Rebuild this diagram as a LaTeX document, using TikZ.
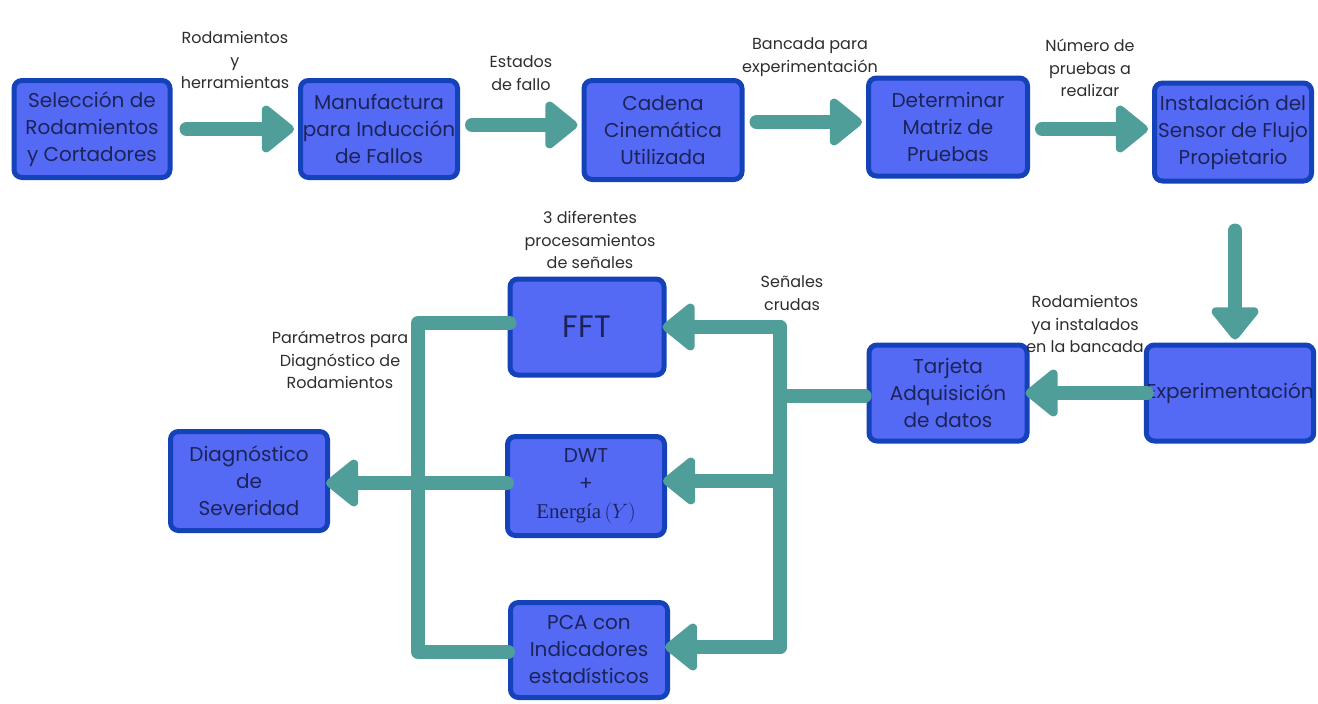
\documentclass[tikz,border=0pt]{standalone}
\usepackage{fontspec}
\setmainfont{Poppins}
\newfontfamily\serifE{Liberation Serif}
\usetikzlibrary{arrows.meta,calc}
\definecolor{boxfill}{RGB}{84,106,244}
\definecolor{boxline}{RGB}{20,66,184}
\definecolor{boxtext}{RGB}{28,35,88}
\definecolor{flowc}{RGB}{80,158,154}
\definecolor{labtext}{RGB}{45,45,45}
\tikzset{
  blk/.style={draw=boxline, fill=boxfill, line width=5pt, rounded corners=8pt,
    inner sep=0pt, align=center, text=boxtext,
    font=\fontsize{20}{27}\selectfont},
  lab/.style={align=center, text=labtext, inner sep=0pt,
    font=\fontsize{16}{22.5}\selectfont},
  wire/.style={draw=flowc, line width=14pt, line cap=round, line join=round},
  flow/.style={wire, -{Triangle[length=35pt,width=54pt,round]}},
}
\begin{document}
\begin{tikzpicture}[x=1pt,y=-1pt]
\useasboundingbox (0,0) rectangle (1318,704);
% boxes
\node[blk, minimum width=156pt, minimum height=97pt] (sel) at (92,129) {Selección de\\Rodamientos\\y Cortadores};
\node[blk, minimum width=157pt, minimum height=97pt] (man) at (379,129) {Manufactura\\para Inducción\\de Fallos};
\node[blk, minimum width=158pt, minimum height=99pt] (cad) at (663,130) {Cadena\\Cinemática\\Utilizada};
\node[blk, minimum width=159pt, minimum height=98pt] (det) at (948,127) {Determinar\\Matriz de\\Pruebas};
\node[blk, minimum width=157pt, minimum height=98pt] (ins) at (1233,132) {Instalación del\\Sensor de Flujo\\Propietario};
\node[blk, minimum width=165pt, minimum height=96pt] (exp) at (1230,393) {\raisebox{5pt}{Experimentación}};
\node[blk, minimum width=158pt, minimum height=96pt] (tar) at (948,393) {Tarjeta\\Adquisición\\de datos};
\node[blk, minimum width=154pt, minimum height=96pt, font=\fontsize{31}{34}\selectfont] (fft) at (587,327) {FFT};
\node[blk, minimum width=157pt, minimum height=99pt, font=\fontsize{20}{28}\selectfont] (dwt) at (586,486) {DWT\\+\\{\serifE\fontsize{21}{28}\selectfont Energía}\,$(Y)$};
\node[blk, minimum width=157pt, minimum height=95pt] (pca) at (589,650) {PCA con\\Indicadores\\estadísticos};
\node[blk, minimum width=157pt, minimum height=99pt] (dia) at (249,481) {Diagnóstico\\de\\Severidad};
% labels
\node[lab] (l1) at (235,60) {Rodamientos\\y\\herramientas};
\node[lab] (l2) at (521,73) {Estados\\de fallo};
\node[lab] (l3) at (810,57) {Bancada para\\experimentación};
\node[lab] (l4) at (1090,68) {Número de\\pruebas a\\realizar};
\node[lab] (l5) at (590,240) {3 diferentes\\procesamientos\\de señales};
\node[lab] (l6) at (792,293) {Señales\\crudas};
\node[lab] (l7) at (1085,324) {Rodamientos\\ya instalados\\en la bancada};
\node[lab] (l8) at (340,360) {Parámetros para\\Diagnóstico de\\Rodamientos};
% top row arrows
\draw[flow] ($(sel.east)+(14,0)$) -- ($(man.west)+(-4,0)$);
\draw[flow] ($(man.east)+(12,-4)$) -- ($(cad.west)+(-4,-5)$);
\draw[flow] ($(cad.east)+(12,-8)$) -- ($(det.west)+(-4,-5)$);
\draw[flow] ($(det.east)+(12,2)$) -- ($(ins.west)+(-4,-3)$);
\draw[flow] ($(ins.south)+(2,47)$) -- ($(exp.north)+(5,-3)$);
\draw[flow] ($(exp.west)+(3,0)$) -- ($(tar.east)+(-4,0)$);
% right distribution
\coordinate (rt) at (780,327);
\coordinate (rb) at (780,647);
\coordinate (lb) at (418,652);
\draw[wire] ($(tar.west)+(-2,3)$) -- (rt |- {$(tar.west)+(0,3)$});
\draw[flow] (rb) -- (rt) -- ($(fft.east)+(-4,0)$);
\draw[flow] (rt) -- (rb) -- ($(pca.east |- rb)+(-5,0)$);
\draw[flow] (rt |- {$(dwt.east)+(0,-5)$}) -- ($(dwt.east)+(-4,-5)$);
% left collection
\draw[wire] ($(fft.west)+(2,-4)$) -| (lb) -- (lb -| pca.west);
\draw[flow] ($(dwt.west)+(2,-3)$) -- ($(dia.east |- dwt.west)+(-4,-3)$);
\end{tikzpicture}
\end{document}
